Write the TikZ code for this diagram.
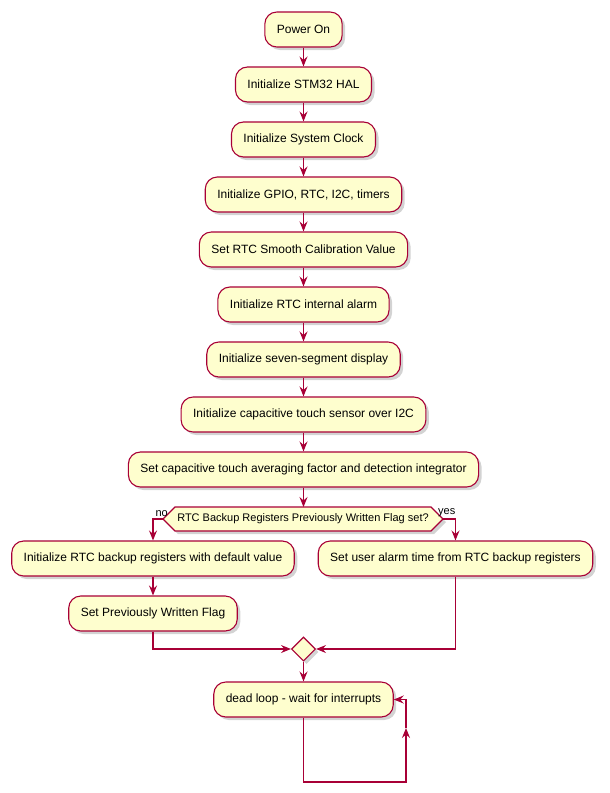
\documentclass[tikz,border=0pt]{standalone}
\usepackage{fontspec}
\setmainfont{Liberation Sans}
\usetikzlibrary{arrows.meta,shapes.geometric,shadows}
\definecolor{umlred}{HTML}{A80036}
\definecolor{umlfill}{HTML}{FEFECE}

\begin{document}
\begin{tikzpicture}[x=1pt,y=-1pt,>={Stealth[length=10pt,width=8pt,inset=3.5pt]},
  act/.style={draw=umlred,fill=umlfill,line width=1.1pt,rounded corners=12pt,
    minimum height=35pt,inner xsep=12pt,font=\fontsize{12}{14}\selectfont,
    drop shadow={shadow xshift=3pt,shadow yshift=-3pt,opacity=0.35}},
  flow/.style={->,draw=umlred,line width=1.1pt},
  lbl/.style={font=\fontsize{11}{13}\selectfont,inner sep=1pt}]
\useasboundingbox (0,0) rectangle (610,793);

% main sequence
\node[act] (pwr)   at (303.5,29.5) {Power On};
\node[act] (hal)   at (303.5,84.5) {Initialize STM32 HAL};
\node[act] (clk)   at (303.5,139.5) {Initialize System Clock};
\node[act] (gpio)  at (303.5,194.5) {Initialize GPIO, RTC, I2C, timers};
\node[act] (cal)   at (303.5,249.5) {Set RTC Smooth Calibration Value};
\node[act] (alrm)  at (303.5,304.5) {Initialize RTC internal alarm};
\node[act] (seg)   at (303.5,359.5) {Initialize seven-segment display};
\node[act] (touch) at (303.5,414.5) {Initialize capacitive touch sensor over I2C};
\node[act] (avg)   at (303.5,469.5) {Set capacitive touch averaging factor and detection integrator};

% decision
\coordinate (qL) at (163,519);
\coordinate (qR) at (443,519);
\fill[umlfill,draw=umlred,line width=1.1pt,drop shadow={shadow xshift=3pt,shadow yshift=-3pt,opacity=0.35}]
  (qL) -- (175,507) -- (431,507) -- (qR) -- (431,531) -- (175,531) -- cycle;
\node[lbl] (q) at (303,519) {RTC Backup Registers Previously Written Flag set?};
\node[lbl,anchor=south east] (no) at (169,518) {no};
\node[lbl,anchor=south west] (yes) at (437,518) {yes};

% branches
\node[act] (bkp)  at (153,558.5) {Initialize RTC backup registers with default value};
\node[act] (flag) at (153,613.5) {Set Previously Written Flag};
\node[act] (usr)  at (455.5,558.5) {Set user alarm time from RTC backup registers};

% merge
\node[diamond,draw=umlred,fill=umlfill,line width=1.1pt,minimum width=24pt,minimum height=24pt,inner sep=0pt,
  drop shadow={shadow xshift=3pt,shadow yshift=-3pt,opacity=0.35}] (m) at (303.5,649) {};

\node[act] (loop) at (303.5,699.5) {dead loop - wait for interrupts};

\draw[flow] (pwr) -- (hal);
\draw[flow] (hal) -- (clk);
\draw[flow] (clk) -- (gpio);
\draw[flow] (gpio) -- (cal);
\draw[flow] (cal) -- (alrm);
\draw[flow] (alrm) -- (seg);
\draw[flow] (seg) -- (touch);
\draw[flow] (touch) -- (avg);
\draw[flow] (avg) -- (303.5,507);
\draw[flow] (qL) -| (bkp.north);
\draw[flow] (qR) -| (usr.north);
\draw[flow] (bkp) -- (flag);
\draw[flow] (flag.south) |- (m.west);
\draw[flow] (usr.south) |- (m.east);
\draw[flow] (m) -- (loop);

% loop back
\coordinate (lpB) at (406,782);
\coordinate (lpM) at (406,728);
\coordinate (lpC) at (406,699.5);
\draw[flow] (loop.south) |- (lpB) -- (lpM);
\draw[flow] (lpM) -- (lpC) -- (loop.east);

\end{tikzpicture}
\end{document}
